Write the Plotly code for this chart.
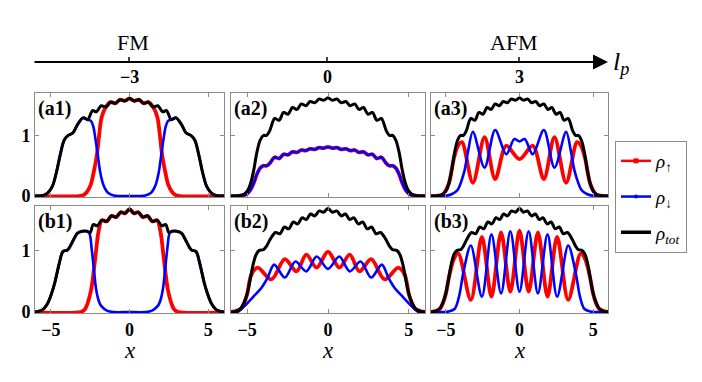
import plotly.graph_objects as go

# ---------------- data ----------------
# (a1) FM state
x_fm_a = [-6, -5.5, -5.2, -4.9, -4.65, -4.4, -4.15, -3.9, -3.6, -3.3, -2.95, -2.65, -2.35, -2.1, -1.8, -1.5, -1.2, -0.9, -0.6, -0.3, 0,
          0.3, 0.6, 0.9, 1.2, 1.5, 1.8, 2.1, 2.35, 2.65, 2.95, 3.3, 3.6, 3.9, 4.15, 4.4, 4.65, 4.9, 5.2, 5.5, 6]
tot_fm_a = [0, 0.01, 0.05, 0.16, 0.38, 0.68, 0.92, 1.0, 1.04, 1.18, 1.29, 1.26, 1.41, 1.39, 1.49, 1.47, 1.55, 1.53, 1.59, 1.57, 1.61,
            1.57, 1.59, 1.53, 1.55, 1.47, 1.49, 1.39, 1.41, 1.26, 1.29, 1.18, 1.04, 1.0, 0.92, 0.68, 0.38, 0.16, 0.05, 0.01, 0]
x_a1_up = [-6, -3.2, -2.9, -2.7, -2.46, -2.3, -2.08, -1.93, -1.77, -1.5, -1.2, -0.9, -0.6, -0.3, 0,
           0.3, 0.6, 0.9, 1.2, 1.5, 1.77, 1.93, 2.08, 2.3, 2.46, 2.7, 2.9, 3.2, 6]
up_a1 = [0, 0, 0.02, 0.07, 0.19, 0.36, 0.66, 1.0, 1.3, 1.47, 1.55, 1.53, 1.59, 1.57, 1.61,
         1.57, 1.59, 1.53, 1.55, 1.47, 1.3, 1.0, 0.66, 0.36, 0.19, 0.07, 0.02, 0, 0]
x_a1_dn = [-6, -5.5, -5.2, -4.9, -4.65, -4.4, -4.15, -3.9, -3.6, -3.3, -2.95, -2.65, -2.45, -2.3, -2.15, -2.0, -1.85, -1.65, -1.35, -1.0, 0,
           1.0, 1.35, 1.65, 1.85, 2.0, 2.15, 2.3, 2.45, 2.65, 2.95, 3.3, 3.6, 3.9, 4.15, 4.4, 4.65, 4.9, 5.2, 5.5, 6]
dn_a1 = [0, 0.01, 0.05, 0.16, 0.38, 0.68, 0.92, 1.0, 1.04, 1.18, 1.29, 1.26, 1.24, 1.15, 0.92, 0.65, 0.38, 0.18, 0.05, 0.01, 0,
         0.01, 0.05, 0.18, 0.38, 0.65, 0.92, 1.15, 1.24, 1.26, 1.29, 1.18, 1.04, 1.0, 0.92, 0.68, 0.38, 0.16, 0.05, 0.01, 0]

# (b1) FM state
x_fm_b = [-6, -5.8, -5.5, -5.2, -4.95, -4.75, -4.45, -4.23, -3.92, -3.6, -3.3, -3.0, -2.7, -2.5, -2.3, -2.05, -1.75, -1.45, -1.15, -0.85, -0.55, -0.28, 0,
          0.28, 0.55, 0.85, 1.15, 1.45, 1.75, 2.05, 2.3, 2.5, 2.7, 3.0, 3.3, 3.6, 3.92, 4.23, 4.45, 4.75, 4.95, 5.2, 5.5, 5.8, 6]
tot_fm_b = [0, 0.01, 0.04, 0.14, 0.3, 0.47, 0.8, 0.98, 1.01, 1.15, 1.28, 1.31, 1.31, 1.29, 1.42, 1.40, 1.49, 1.47, 1.56, 1.54, 1.62, 1.60, 1.67,
            1.60, 1.62, 1.54, 1.56, 1.47, 1.49, 1.40, 1.42, 1.29, 1.31, 1.31, 1.28, 1.15, 1.01, 0.98, 0.8, 0.47, 0.3, 0.14, 0.04, 0.01, 0]
x_b1_up = [-6, -3.1, -2.85, -2.65, -2.43, -2.26, -2.12, -1.97, -1.75, -1.45, -1.15, -0.85, -0.55, -0.28, 0,
           0.28, 0.55, 0.85, 1.15, 1.45, 1.75, 1.97, 2.12, 2.26, 2.43, 2.65, 2.85, 3.1, 6]
up_b1 = [0, 0, 0.04, 0.15, 0.37, 0.69, 1.0, 1.3, 1.49, 1.47, 1.56, 1.54, 1.62, 1.60, 1.67,
         1.60, 1.62, 1.54, 1.56, 1.47, 1.49, 1.3, 1.0, 0.69, 0.37, 0.15, 0.04, 0, 0]
x_b1_dn = [-6, -5.8, -5.5, -5.2, -4.95, -4.75, -4.45, -4.23, -3.92, -3.6, -3.3, -3.0, -2.7, -2.55, -2.39, -2.26, -2.12, -1.95, -1.8, -1.4, -1.0, 0,
           1.0, 1.4, 1.8, 1.95, 2.12, 2.26, 2.39, 2.55, 2.7, 3.0, 3.3, 3.6, 3.92, 4.23, 4.45, 4.75, 4.95, 5.2, 5.5, 5.8, 6]
dn_b1 = [0, 0.01, 0.04, 0.14, 0.3, 0.47, 0.8, 0.98, 1.01, 1.15, 1.28, 1.31, 1.31, 1.28, 1.0, 0.69, 0.37, 0.18, 0.1, 0.02, 0, 0,
         0, 0.02, 0.1, 0.18, 0.37, 0.69, 1.0, 1.28, 1.31, 1.31, 1.28, 1.15, 1.01, 0.98, 0.8, 0.47, 0.3, 0.14, 0.04, 0.01, 0]

# total density, top row (a2, a3)
x_tot_a = [-6, -5.5, -5.2, -5.0, -4.8, -4.6, -4.4, -4.2, -4.0, -3.8, -3.6, -3.3, -3.02, -2.75, -2.47, -2.2, -1.92, -1.65, -1.37, -1.1, -0.82, -0.55, -0.27, 0,
           0.27, 0.55, 0.82, 1.1, 1.37, 1.65, 1.92, 2.2, 2.47, 2.75, 3.02, 3.3, 3.6, 3.8, 4.0, 4.2, 4.4, 4.6, 4.8, 5.0, 5.2, 5.5, 6]
tot_a = [0, 0.005, 0.03, 0.08, 0.2, 0.42, 0.72, 0.92, 1.0, 1.0, 1.08, 1.28, 1.25, 1.38, 1.35, 1.46, 1.43, 1.52, 1.49, 1.56, 1.54, 1.6, 1.58, 1.62,
         1.58, 1.6, 1.54, 1.56, 1.49, 1.52, 1.43, 1.46, 1.35, 1.38, 1.25, 1.28, 1.08, 1.0, 1.0, 0.92, 0.72, 0.42, 0.2, 0.08, 0.03, 0.005, 0]
# (a2) both spin components coincide
half_a2 = [0, 0.003, 0.015, 0.04, 0.1, 0.21, 0.36, 0.46, 0.5, 0.5, 0.54, 0.64, 0.62, 0.69, 0.68, 0.73, 0.72, 0.76, 0.75, 0.78, 0.77, 0.8, 0.79, 0.81,
           0.79, 0.8, 0.77, 0.78, 0.75, 0.76, 0.72, 0.73, 0.68, 0.69, 0.62, 0.64, 0.54, 0.5, 0.5, 0.46, 0.36, 0.21, 0.1, 0.04, 0.015, 0.003, 0]

# (a3)
x_a3_up = [-6, -5.2, -4.8, -4.45, -4.15, -3.9, -3.16, -2.37, -1.65, -0.9, 0, 0.9, 1.65, 2.37, 3.16, 3.9, 4.15, 4.45, 4.8, 5.2, 6]
up_a3 = [0, 0.03, 0.2, 0.62, 0.84, 0.89, 0.22, 0.97, 0.28, 0.83, 0.61, 0.83, 0.28, 0.97, 0.22, 0.89, 0.84, 0.62, 0.2, 0.03, 0]
x_a3_dn = [-6, -5.0, -4.6, -4.2, -3.75, -3.5, -3.16, -2.37, -1.65, -0.9, -0.35, 0, 0.35, 0.9, 1.65, 2.37, 3.16, 3.5, 3.75, 4.2, 4.6, 5.0, 6]
dn_a3 = [0, 0.005, 0.03, 0.1, 0.4, 0.72, 1.06, 0.47, 1.09, 0.69, 0.94, 0.9, 0.94, 0.69, 1.09, 0.47, 1.06, 0.72, 0.4, 0.1, 0.03, 0.005, 0]

# total density, bottom row (b2, b3)
x_tot_b = [-6, -5.7, -5.4, -5.2, -5.0, -4.85, -4.65, -4.45, -4.25, -4.0, -3.8, -3.55, -3.25, -2.97, -2.7, -2.42, -2.15, -1.87, -1.6, -1.34, -1.08, -0.81, -0.54, -0.27, 0,
           0.27, 0.54, 0.81, 1.08, 1.34, 1.6, 1.87, 2.15, 2.42, 2.7, 2.97, 3.25, 3.55, 3.8, 4.0, 4.25, 4.45, 4.65, 4.85, 5.0, 5.2, 5.4, 5.7, 6]
tot_b = [0, 0.01, 0.06, 0.15, 0.3, 0.48, 0.75, 0.93, 1.0, 1.01, 1.07, 1.19, 1.29, 1.27, 1.38, 1.35, 1.46, 1.43, 1.53, 1.5, 1.59, 1.56, 1.64, 1.62, 1.68,
         1.62, 1.64, 1.56, 1.59, 1.5, 1.53, 1.43, 1.46, 1.35, 1.38, 1.27, 1.29, 1.19, 1.07, 1.01, 1.0, 0.93, 0.75, 0.48, 0.3, 0.15, 0.06, 0.01, 0]

# (b2)
x_b2_up = [-6, -5.4, -5.2, -5.0, -4.75, -4.35, -3.5, -2.67, -1.95, -1.34, -0.7, 0, 0.7, 1.34, 1.95, 2.67, 3.5, 4.35, 4.75, 5.0, 5.2, 5.4, 6]
up_b2 = [0, 0.05, 0.14, 0.29, 0.6, 0.72, 0.53, 0.86, 0.66, 0.93, 0.72, 0.98, 0.72, 0.93, 0.66, 0.86, 0.53, 0.72, 0.6, 0.29, 0.14, 0.05, 0]
x_b2_dn = [-6, -5.6, -5.15, -4.65, -4.1, -3.75, -3.33, -2.67, -2.02, -1.34, -0.7, 0, 0.7, 1.34, 2.02, 2.67, 3.33, 3.75, 4.1, 4.65, 5.15, 5.6, 6]
dn_b2 = [0, 0.0, 0.1, 0.24, 0.4, 0.55, 0.77, 0.56, 0.82, 0.66, 0.9, 0.7, 0.9, 0.66, 0.82, 0.56, 0.77, 0.55, 0.4, 0.24, 0.1, 0.0, 0]

# (b3)
x_b3_up = [-6, -5.4, -5.2, -5.0, -4.75, -4.45, -4.15, -3.3, -2.55, -1.9, -1.25, -0.62, 0, 0.62, 1.25, 1.9, 2.55, 3.3, 4.15, 4.45, 4.75, 5.0, 5.2, 5.4, 6]
up_b3 = [0, 0.05, 0.14, 0.29, 0.6, 0.86, 0.95, 0.2, 1.22, 0.25, 1.29, 0.33, 1.32, 0.33, 1.29, 0.25, 1.22, 0.2, 0.95, 0.86, 0.6, 0.29, 0.14, 0.05, 0]
x_b3_dn = [-6, -4.8, -4.4, -4.1, -3.8, -3.3, -2.55, -1.9, -1.25, -0.62, 0, 0.62, 1.25, 1.9, 2.55, 3.3, 3.8, 4.1, 4.4, 4.8, 6]
dn_b3 = [0, 0.01, 0.05, 0.25, 0.65, 1.08, 0.25, 1.26, 0.3, 1.31, 0.33, 1.31, 0.3, 1.26, 0.25, 1.08, 0.65, 0.25, 0.05, 0.01, 0]

panel_labels = ["(a1)", "(a2)", "(a3)", "(b1)", "(b2)", "(b3)"]
lp_ticks = ["\u22123", "0", "3"]
phase_labels = ["FM", "AFM"]

# ---------------- layout geometry (screen pixels) ----------------
OFF = 8                      # the page body adds an 8px margin
W, H = 702 - OFF, 382 - OFF  # figure size


def X(p):
    return (p - OFF) / W


def Y(p):
    return 1 - (p - OFF) / H


SERIF = "Liberation Serif"
RED, BLUE, BLACK = "#ff0000", "#0000ff", "#000000"
FRAME = "#8a8a8a"

cols = [(35, 224), (231, 425), (431, 608)]
rows = [(93, 197), (206, 313)]
yranges = [[-0.015, 1.7], [-0.015, 1.72]]

curves = [
    [(x_a1_up, up_a1), (x_a1_dn, dn_a1), (x_fm_a, tot_fm_a)],
    [(x_tot_a, half_a2), (x_tot_a, half_a2), (x_tot_a, tot_a)],
    [(x_a3_up, up_a3), (x_a3_dn, dn_a3), (x_tot_a, tot_a)],
    [(x_b1_up, up_b1), (x_b1_dn, dn_b1), (x_fm_b, tot_fm_b)],
    [(x_b2_up, up_b2), (x_b2_dn, dn_b2), (x_tot_b, tot_b)],
    [(x_b3_up, up_b3), (x_b3_dn, dn_b3), (x_tot_b, tot_b)],
]
styles = [dict(color=RED, width=3.8), dict(color=BLUE, width=2.6), dict(color=BLACK, width=3)]

fig = go.Figure()
layout = {}
annotations = []

for i in range(6):
    r, c = divmod(i, 3)
    n = "" if i == 0 else str(i + 1)
    x0, x1 = cols[c]
    top, bot = rows[r]
    for (xs, ys), st in zip(curves[i], styles):
        fig.add_trace(go.Scatter(x=xs, y=ys, mode="lines", line=dict(shape="spline", smoothing=0.9, **st),
                                 xaxis="x" + n, yaxis="y" + n, showlegend=False, hoverinfo="skip"))
    common = dict(showline=True, mirror="ticks", linecolor=FRAME, linewidth=1, ticks="inside", ticklen=4,
                  tickcolor=FRAME, showgrid=False, zeroline=False, automargin=False,
                  tickfont=dict(family=SERIF, size=18, color="black", weight="bold"))
    layout["xaxis" + n] = dict(common, domain=[X(x0), X(x1)], anchor="y" + n, range=[-6, 6],
                               tickvals=[-5, 0, 5], showticklabels=(r == 1), ticklabelstandoff=0)
    layout["yaxis" + n] = dict(common, domain=[Y(bot), Y(top)], anchor="x" + n, range=yranges[r],
                               tickvals=[0, 1], showticklabels=(c == 0), ticklabelstandoff=0)
    annotations.append(dict(text="<b>%s</b>" % panel_labels[i], x=X(x0 + 1), y=Y(top + 16),
                            xref="paper", yref="paper", xanchor="left", yanchor="middle", showarrow=False,
                            font=dict(family=SERIF, size=20, color="black")))
    if r == 1:
        annotations.append(dict(text="<i>x</i>", x=X((x0 + x1) / 2), y=Y(350), xref="paper", yref="paper",
                                xanchor="center", yanchor="middle", showarrow=False,
                                font=dict(family=SERIF, size=23, color="black")))

# legend entries
fig.add_trace(go.Scatter(x=[None], y=[None], mode="lines+markers", name="<i>\u03c1</i><sub>\u2191</sub>",
                         line=dict(color=RED, width=2.5), marker=dict(symbol="square", size=5, color=RED),
                         legendgroup="up"))
fig.add_trace(go.Scatter(x=[None], y=[None], mode="lines+markers", name="<i>\u03c1</i><sub>\u2193</sub>",
                         line=dict(color=BLUE, width=2.5), marker=dict(symbol="circle", size=4, color=BLUE),
                         legendgroup="dn"))
fig.add_trace(go.Scatter(x=[None], y=[None], mode="lines", name="<i>\u03c1</i><sub><i>tot</i></sub>",
                         line=dict(color=BLACK, width=3.5), legendgroup="tot"))

# top l_p axis (schematic arrow)
arrow_y = 62
lp_x = [129, 327, 519]
shapes = []
for xp in lp_x:
    shapes.append(dict(type="line", xref="paper", yref="paper", x0=X(xp), x1=X(xp),
                       y0=Y(arrow_y - 5), y1=Y(arrow_y), line=dict(color="black", width=1.5)))
annotations.append(dict(text="", x=X(608), y=Y(arrow_y), xref="paper", yref="paper", showarrow=True,
                        ax=-(608 - 33), ay=0, arrowhead=2, arrowsize=1.5, arrowwidth=2, arrowcolor="black",
                        standoff=0))
for xp, t in zip(lp_x, lp_ticks):
    annotations.append(dict(text="<b>%s</b>" % t, x=X(xp), y=Y(77), xref="paper", yref="paper",
                            showarrow=False, xanchor="center", yanchor="middle",
                            font=dict(family=SERIF, size=18, color="black")))
for xp, t in zip([133, 514], phase_labels):
    annotations.append(dict(text=t, x=X(xp), y=Y(42), xref="paper", yref="paper", showarrow=False,
                            xanchor="center", yanchor="middle", font=dict(family=SERIF, size=22, color="black")))
annotations.append(dict(text="<i>l</i><sub><i>p</i></sub>", x=X(611), y=Y(63), xref="paper", yref="paper",
                        showarrow=False, xanchor="left", yanchor="middle",
                        font=dict(family=SERIF, size=26, color="black")))

fig.update_layout(
    width=W, height=H, margin=dict(l=0, r=0, t=0, b=0),
    paper_bgcolor="white", plot_bgcolor="white",
    annotations=annotations, shapes=shapes,
    legend=dict(x=X(615), y=Y(141), xanchor="left", yanchor="top", bordercolor=FRAME, borderwidth=1,
                bgcolor="white", font=dict(family=SERIF, size=19, color="black"), tracegroupgap=8,
                itemwidth=30),
    **layout,
)

fig.write_html("out.html")
